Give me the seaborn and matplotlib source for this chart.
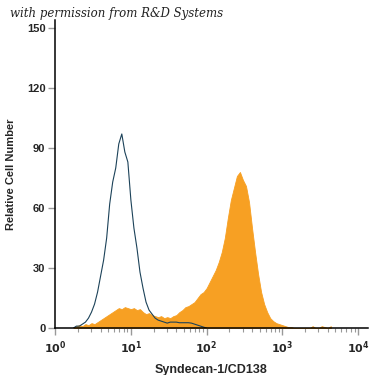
import numpy as np
import matplotlib
matplotlib.use("Agg")
import matplotlib.pyplot as plt
import seaborn as sns
from matplotlib.ticker import FixedLocator, LogLocator, NullFormatter

# bin centres in log10 units (bin width 0.04)
iso_pos = [0.24, 0.28, 0.32, 0.36, 0.40, 0.44, 0.48, 0.52, 0.56, 0.60,
           0.64, 0.68, 0.72, 0.76, 0.80, 0.84, 0.88, 0.92, 0.96, 1.00,
           1.04, 1.08, 1.12, 1.16, 1.20, 1.24, 1.28, 1.32, 1.36, 1.40,
           1.44, 1.48, 1.52, 1.56, 1.60, 1.64, 1.68, 1.72, 1.76, 1.80,
           1.84, 1.88, 1.92, 1.96, 2.00]
# isotype control counts (blue outline)
iso_counts = [0, 1, 1, 2, 3, 5, 8, 12, 18, 26,
              34, 45, 62, 73, 80, 92, 97, 88, 83, 64,
              50, 40, 28, 20, 13, 9, 7, 5, 4, 3.5,
              3, 2.5, 3, 3, 3, 2.7, 2.7, 2.7, 2.7, 2.5,
              2, 1.5, 1, 0.5, 0]

cd138_pos = [0.24, 0.28, 0.32, 0.36, 0.40, 0.44, 0.48, 0.52, 0.56, 0.60,
             0.64, 0.68, 0.72, 0.76, 0.80, 0.84, 0.88, 0.92, 0.96, 1.00,
             1.04, 1.08, 1.12, 1.16, 1.20, 1.24, 1.28, 1.32, 1.36, 1.40,
             1.44, 1.48, 1.52, 1.56, 1.60, 1.64, 1.68, 1.72, 1.76, 1.80,
             1.84, 1.88, 1.92, 1.96, 2.00, 2.04, 2.08, 2.12, 2.16, 2.20,
             2.24, 2.28, 2.32, 2.36, 2.40, 2.44, 2.48, 2.52, 2.56, 2.60,
             2.64, 2.68, 2.72, 2.76, 2.80, 2.84, 2.88, 2.92, 2.96, 3.00,
             3.04, 3.08, 3.12, 3.16, 3.40, 3.52, 3.56, 3.64]
# Syndecan-1/CD138 stained counts (orange fill)
cd138_counts = [0, 1, 1.5, 1, 2, 1.5, 2.5, 2, 3, 4,
                5, 6, 7, 8, 9, 10, 9.5, 10.5, 10, 9.5,
                10, 9, 9.5, 8, 7, 7.5, 6.5, 6, 5.5, 6,
                5, 5.5, 5, 6, 6.5, 8, 9, 10.5, 11, 12,
                13, 15, 17, 18, 20, 23, 26, 29, 33, 38,
                45, 55, 64, 70, 76, 78, 74, 71, 63, 50,
                38, 27, 18, 12, 8, 5, 3.5, 2.5, 2, 1.5,
                1, 0.5, 0.5, 0, 1, 1, 0.5, 1]

y_ticks = [0, 30, 60, 90, 120, 150]
x_ticks = [1, 10, 100, 1000, 10000]
x_ticklabels = [r"$\mathbf{10^{0}}$", r"$\mathbf{10^{1}}$", r"$\mathbf{10^{2}}$",
                r"$\mathbf{10^{3}}$", r"$\mathbf{10^{4}}$"]

sns.set_style("white")
plt.rcParams["font.family"] = ["Liberation Sans", "DejaVu Sans"]

fig = plt.figure(figsize=(3.75, 3.75), dpi=100)
ax = fig.add_axes([0.147, 0.125, 0.834, 0.822])

sns.histplot(x=np.power(10, cd138_pos), weights=cd138_counts, log_scale=True,
             binwidth=0.04, binrange=(0.22, 3.66), element="poly", fill=True,
             color="#f7a023", alpha=1, linewidth=0.6, ax=ax)
sns.histplot(x=np.power(10, iso_pos), weights=iso_counts, log_scale=True,
             binwidth=0.04, binrange=(0.22, 2.02), element="poly", fill=False,
             color="#1c4259", linewidth=0.8, ax=ax)

ax.set_xlim(1, 10 ** 4.13)
ax.set_ylim(0, 154)
ax.xaxis.set_major_locator(FixedLocator(x_ticks))
ax.set_xticklabels(x_ticklabels, fontsize=8)
ax.xaxis.set_minor_locator(LogLocator(base=10, subs=np.arange(2, 10)))
ax.xaxis.set_minor_formatter(NullFormatter())
ax.set_yticks(y_ticks)
ax.set_yticklabels([str(v) for v in y_ticks], fontsize=8, fontweight="bold")

sns.despine(ax=ax)
for s in ["left", "bottom"]:
    ax.spines[s].set_color("black")
    ax.spines[s].set_linewidth(1.1)

ax.tick_params(axis="y", which="major", left=True, length=5, width=1,
               color="#999999", pad=2)
ax.tick_params(axis="x", which="major", bottom=True, length=5, width=1,
               color="#999999", pad=3)
ax.tick_params(axis="x", which="minor", bottom=True, length=3, width=0.8,
               color="#999999")

ax.set_xlabel("Syndecan-1/CD138", fontsize=9, fontweight="bold", labelpad=6)
ax.set_ylabel("Relative Cell Number", fontsize=8, fontweight="bold", labelpad=8)

fig.text(0.027, 0.955, "with permission from R&D Systems", fontsize=8.5,
         style="italic", family="DejaVu Serif", color="#222222")

fig.savefig("out.png", dpi=100)
